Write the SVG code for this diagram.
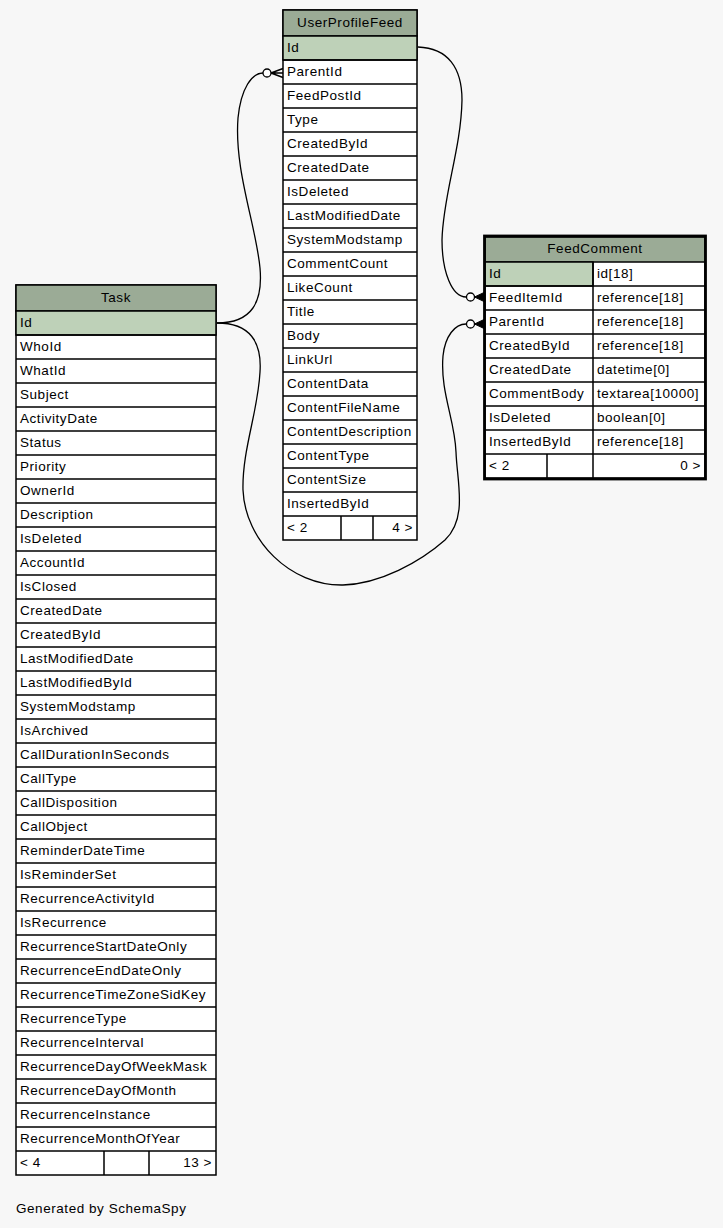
<svg xmlns="http://www.w3.org/2000/svg" width="723" height="1228" viewBox="0 0 723 1228">
<style>
text{font-family:"Liberation Sans",Arial,Helvetica,sans-serif;font-size:13.5px;letter-spacing:0.55px;fill:#000}
.c{text-anchor:middle}
.e{text-anchor:end}
.body{fill:#fff;stroke:#000;stroke-width:1.5}
.hd{fill:#9bab96;stroke:#000;stroke-width:1.5}
.pk{fill:#bed1b8;stroke:#000;stroke-width:1.5}
.ln{fill:none;stroke:#000;stroke-width:1.5}
.edge{fill:none;stroke:#000;stroke-width:1.3}
.dot{fill:#fff;stroke:#000;stroke-width:1.3}
</style>
<rect x="0" y="0" width="723" height="1228" fill="#f7f7f7"/>

<g id="connectors">
  <path class="edge" d="M217,323 C252,323 263,302 260,268 C256,225 234,170 238,118 C241,88 252,73 263,73"/>
  <circle class="dot" cx="267" cy="73" r="4"/>
  <path class="ln" d="M271,73L283,68.5M271,73L283,73M271,73L283,77.5" stroke-width="1.3"/>

  <path class="edge" d="M418,47 C448,48 462,68 462,100 C461,150 443,195 442,240 C442,272 452,297 466,297"/>
  <circle class="dot" cx="470.5" cy="297" r="4"/>
  <path d="M474.5,297L484,292.5L484,301.5Z" fill="#000" stroke="#000" stroke-width="1"/>

  <path class="edge" d="M217,323 C250,323 262,342 260,372 C258,412 242,450 243,490 C245,540 290,586 343,585 C380,584 420,562 445,540 C468,518 457,482 456,452 C455,420 440,392 443,356 C445,336 455,324 466,324"/>
  <circle class="dot" cx="470.5" cy="324" r="4"/>
  <path d="M474.5,324L484,319.5L484,328.5Z" fill="#000" stroke="#000" stroke-width="1"/>
</g>

<g id="UserProfileFeed">
  <rect class="body" x="283" y="10" width="134" height="530"/>
  <rect class="hd" x="283" y="10" width="134" height="26"/>
  <rect class="pk" x="283" y="36" width="134" height="24"/>
  <path class="ln" d="M283,60H417M283,84H417M283,108H417M283,132H417M283,156H417M283,180H417M283,204H417M283,228H417M283,252H417M283,276H417M283,300H417M283,324H417M283,348H417M283,372H417M283,396H417M283,420H417M283,444H417M283,468H417M283,492H417M283,516H417M341,516V540M373,516V540"/>
  <text class="c" x="350" y="27">UserProfileFeed</text>
  <text x="287" y="52">Id</text>
  <text x="287" y="76">ParentId</text>
  <text x="287" y="100">FeedPostId</text>
  <text x="287" y="124">Type</text>
  <text x="287" y="148">CreatedById</text>
  <text x="287" y="172">CreatedDate</text>
  <text x="287" y="196">IsDeleted</text>
  <text x="287" y="220">LastModifiedDate</text>
  <text x="287" y="244">SystemModstamp</text>
  <text x="287" y="268">CommentCount</text>
  <text x="287" y="292">LikeCount</text>
  <text x="287" y="316">Title</text>
  <text x="287" y="340">Body</text>
  <text x="287" y="364">LinkUrl</text>
  <text x="287" y="388">ContentData</text>
  <text x="287" y="412">ContentFileName</text>
  <text x="287" y="436">ContentDescription</text>
  <text x="287" y="460">ContentType</text>
  <text x="287" y="484">ContentSize</text>
  <text x="287" y="508">InsertedById</text>
  <text x="287" y="532">&lt; 2</text>
  <text class="e" x="413" y="532">4 &gt;</text>
</g>

<g id="FeedComment">
  <rect class="body" x="485" y="237" width="220" height="241"/>
  <rect class="hd" x="485" y="237" width="220" height="25"/>
  <rect class="pk" x="485" y="262" width="108" height="24"/>
  <path class="ln" d="M485,286H705M485,310H705M485,334H705M485,358H705M485,382H705M485,406H705M485,430H705M485,454H705M593,262V478M547,454V478"/>
  <rect x="484.5" y="236" width="221" height="243" fill="none" stroke="#000" stroke-width="2.8"/>
  <text class="c" x="595" y="253">FeedComment</text>
  <text x="489" y="278">Id</text>
  <text x="597" y="278">id[18]</text>
  <text x="489" y="302">FeedItemId</text>
  <text x="597" y="302">reference[18]</text>
  <text x="489" y="326">ParentId</text>
  <text x="597" y="326">reference[18]</text>
  <text x="489" y="350">CreatedById</text>
  <text x="597" y="350">reference[18]</text>
  <text x="489" y="374">CreatedDate</text>
  <text x="597" y="374">datetime[0]</text>
  <text x="489" y="398">CommentBody</text>
  <text x="597" y="398">textarea[10000]</text>
  <text x="489" y="422">IsDeleted</text>
  <text x="597" y="422">boolean[0]</text>
  <text x="489" y="446">InsertedById</text>
  <text x="597" y="446">reference[18]</text>
  <text x="489" y="470">&lt; 2</text>
  <text class="e" x="701" y="470">0 &gt;</text>
</g>

<g id="Task">
  <rect class="body" x="16" y="285" width="200" height="890"/>
  <rect class="hd" x="16" y="285" width="200" height="26"/>
  <rect class="pk" x="16" y="311" width="200" height="24"/>
  <path class="ln" d="M16,335H216M16,359H216M16,383H216M16,407H216M16,431H216M16,455H216M16,479H216M16,503H216M16,527H216M16,551H216M16,575H216M16,599H216M16,623H216M16,647H216M16,671H216M16,695H216M16,719H216M16,743H216M16,767H216M16,791H216M16,815H216M16,839H216M16,863H216M16,887H216M16,911H216M16,935H216M16,959H216M16,983H216M16,1007H216M16,1031H216M16,1055H216M16,1079H216M16,1103H216M16,1127H216M16,1151H216M104,1151V1175M149,1151V1175"/>
  <text class="c" x="116" y="302">Task</text>
  <text x="20" y="327">Id</text>
  <text x="20" y="351">WhoId</text>
  <text x="20" y="375">WhatId</text>
  <text x="20" y="399">Subject</text>
  <text x="20" y="423">ActivityDate</text>
  <text x="20" y="447">Status</text>
  <text x="20" y="471">Priority</text>
  <text x="20" y="495">OwnerId</text>
  <text x="20" y="519">Description</text>
  <text x="20" y="543">IsDeleted</text>
  <text x="20" y="567">AccountId</text>
  <text x="20" y="591">IsClosed</text>
  <text x="20" y="615">CreatedDate</text>
  <text x="20" y="639">CreatedById</text>
  <text x="20" y="663">LastModifiedDate</text>
  <text x="20" y="687">LastModifiedById</text>
  <text x="20" y="711">SystemModstamp</text>
  <text x="20" y="735">IsArchived</text>
  <text x="20" y="759">CallDurationInSeconds</text>
  <text x="20" y="783">CallType</text>
  <text x="20" y="807">CallDisposition</text>
  <text x="20" y="831">CallObject</text>
  <text x="20" y="855">ReminderDateTime</text>
  <text x="20" y="879">IsReminderSet</text>
  <text x="20" y="903">RecurrenceActivityId</text>
  <text x="20" y="927">IsRecurrence</text>
  <text x="20" y="951">RecurrenceStartDateOnly</text>
  <text x="20" y="975">RecurrenceEndDateOnly</text>
  <text x="20" y="999">RecurrenceTimeZoneSidKey</text>
  <text x="20" y="1023">RecurrenceType</text>
  <text x="20" y="1047">RecurrenceInterval</text>
  <text x="20" y="1071">RecurrenceDayOfWeekMask</text>
  <text x="20" y="1095">RecurrenceDayOfMonth</text>
  <text x="20" y="1119">RecurrenceInstance</text>
  <text x="20" y="1143">RecurrenceMonthOfYear</text>
  <text x="20" y="1167">&lt; 4</text>
  <text class="e" x="212" y="1167">13 &gt;</text>
</g>

<text x="16" y="1213">Generated by SchemaSpy</text>
</svg>
